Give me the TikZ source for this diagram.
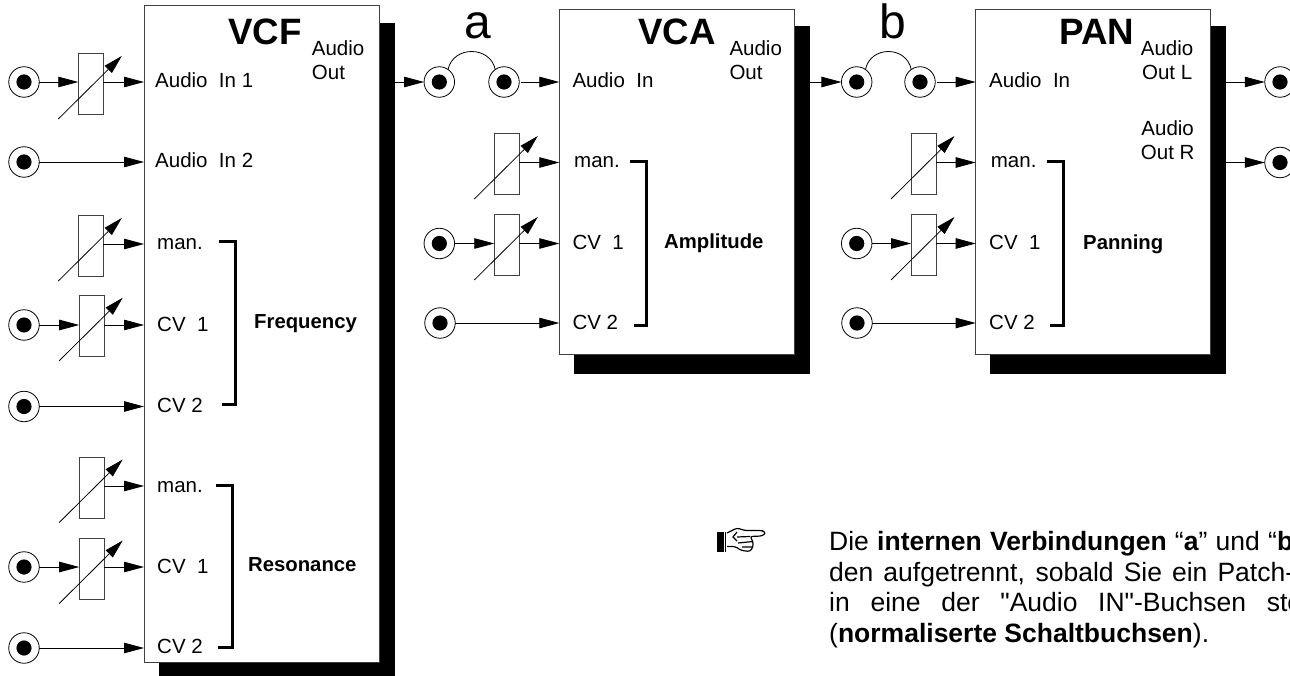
\documentclass[tikz,border=0pt]{standalone}
\usepackage{fontspec}
\setmainfont{Liberation Sans}
\newfontfamily\straightfont{Liberation Sans}
\usetikzlibrary{arrows.meta}
\newcommand{\lblsize}{\fontsize{20.5}{24.2}\selectfont}
\tikzset{
  modbox/.style={draw=black!75,fill=white,line width=1pt,minimum width=235pt,inner sep=0pt,outer sep=0pt},
  jack/.style={circle,draw,line width=.8pt,minimum size=30.5pt,inner sep=0pt,outer sep=0pt,
    path picture={\fill (path picture bounding box.center) circle (7.6pt);}},
  potbox/.style={draw=black!75,line width=1pt,minimum width=25pt,minimum height=61pt,inner sep=0pt,outer sep=0pt},
  sig/.style={-{Triangle[length=20pt,width=10.5pt]},line width=.8pt},
  knob/.style={-{Triangle[length=19pt,width=10pt]},line width=.8pt},
  brk/.style={line width=3pt,line cap=butt,line join=miter},
  lbl/.style={anchor=base west,inner sep=0pt,font=\lblsize},
  outlbl/.style={anchor=base west,inner sep=0pt,font=\lblsize,align=left},
  grp/.style={anchor=base west,inner sep=0pt,font=\fontsize{20.3}{24}\selectfont\bfseries},
  title/.style={anchor=base,inner sep=0pt,font=\fontsize{36.7}{40}\selectfont\bfseries},
  tag/.style={anchor=base,inner sep=0pt,font=\fontsize{48}{50}\selectfont},
  para/.style={anchor=base west,inner sep=0pt,font=\fontsize{26.5}{30.8}\selectfont}
}
\begin{document}
\begin{tikzpicture}[x=1pt,y=-1pt]
\useasboundingbox (0,0) rectangle (1290,676);
\fill (159,23) rectangle (395,676);
\fill (574,26) rectangle (810,374);
\fill (990,26) rectangle (1226,374);
\node[modbox,minimum height=656pt] (vcf) at (261.5,334) {};
\node[modbox,minimum height=344.5pt] (vca) at (676.8,181.8) {};
\node[modbox,minimum height=344.5pt] (pan) at (1093.2,181.8) {};
\node[title] (vcft) at (265,45) {VCF};
\node[title] (vcat) at (677,45) {VCA};
\node[title] (pant) at (1097,45) {PAN};
\node[tag] (taga) at (478,39) {a};
\node[tag] (tagb) at (893,39) {b};

\coordinate (fa1) at (144,82);
\coordinate (fa2) at (144,162);
\coordinate (ffm) at (144,244);
\coordinate (ffa) at (144,325);
\coordinate (ffb) at (144,406.5);
\coordinate (frm) at (144,486);
\coordinate (fra) at (144,567);
\coordinate (frb) at (144,648);
\coordinate (fout) at (395,82);
\coordinate (aa) at (559.3,82);
\coordinate (am) at (559.3,162.5);
\coordinate (ac1) at (559.3,243.5);
\coordinate (ac2) at (559.3,323);
\coordinate (aout) at (810,82);
\coordinate (pa) at (975.7,82);
\coordinate (pm) at (975.7,162.5);
\coordinate (pc1) at (975.7,243.5);
\coordinate (pc2) at (975.7,323);
\coordinate (poutl) at (1226,82);
\coordinate (poutr) at (1226,162.5);

\node[jack] (j1) at (24,82) {};
\node[jack] (j2) at (24,162) {};
\node[jack] (j3) at (24,325) {};
\node[jack] (j4) at (24,406.5) {};
\node[jack] (j5) at (24,567) {};
\node[jack] (j6) at (24,648) {};
\node[jack] (ja1) at (439.3,82) {};
\node[jack] (ja2) at (504,82) {};
\node[jack] (ja3) at (439.3,243.5) {};
\node[jack] (ja4) at (440,323) {};
\node[jack] (jb1) at (856.7,82) {};
\node[jack] (jb2) at (920,82) {};
\node[jack] (jb3) at (856.7,243.5) {};
\node[jack] (jb4) at (857,323) {};
\node[jack] (jo1) at (1280,82) {};
\node[jack] (jo2) at (1280,162.5) {};

\node[potbox] (p1) at (90.8,84.5) {};
\node[potbox] (p2) at (90.8,246.5) {};
\node[potbox] (p3) at (91.7,326.3) {};
\node[potbox] (p4) at (91.7,488) {};
\node[potbox] (p5) at (91.7,569) {};
\node[potbox] (pa1) at (506.8,164.5) {};
\node[potbox] (pa2) at (506.8,245.5) {};
\node[potbox] (pb1) at (923.5,164.5) {};
\node[potbox] (pb2) at (923.5,245.5) {};

\draw[knob] ([shift={(-32.5,34.5)}]p1.center) -- ([shift={(31,-28.5)}]p1.center);
\draw[knob] ([shift={(-32.5,34.5)}]p2.center) -- ([shift={(31,-28.5)}]p2.center);
\draw[knob] ([shift={(-32.5,34.5)}]p3.center) -- ([shift={(31,-28.5)}]p3.center);
\draw[knob] ([shift={(-32.5,34.5)}]p4.center) -- ([shift={(31,-28.5)}]p4.center);
\draw[knob] ([shift={(-32.5,34.5)}]p5.center) -- ([shift={(31,-28.5)}]p5.center);
\draw[knob] ([shift={(-32.5,34.5)}]pa1.center) -- ([shift={(31,-28.5)}]pa1.center);
\draw[knob] ([shift={(-32.5,34.5)}]pa2.center) -- ([shift={(31,-28.5)}]pa2.center);
\draw[knob] ([shift={(-32.5,34.5)}]pb1.center) -- ([shift={(31,-28.5)}]pb1.center);
\draw[knob] ([shift={(-32.5,34.5)}]pb2.center) -- ([shift={(31,-28.5)}]pb2.center);

\draw[sig] (j1) -- (j1 -| p1.west);
\draw[sig] (fa1 -| p1.east) -- (fa1);
\draw[sig] (j2) -- (fa2);
\draw[sig] (ffm -| p2.east) -- (ffm);
\draw[sig] (j3) -- (j3 -| p3.west);
\draw[sig] (ffa -| p3.east) -- (ffa);
\draw[sig] (j4) -- (ffb);
\draw[sig] (frm -| p4.east) -- (frm);
\draw[sig] (j5) -- (j5 -| p5.west);
\draw[sig] (fra -| p5.east) -- (fra);
\draw[sig] (j6) -- (frb);
\draw[sig] (fout) -- (ja1);
\draw[sig,shorten <=2pt] (ja2) -- (aa);
\draw[sig] (am -| pa1.east) -- (am);
\draw[sig] (ja3) -- (ja3 -| pa2.west);
\draw[sig] (ac1 -| pa2.east) -- (ac1);
\draw[sig] (ja4) -- (ac2);
\draw[sig] (aout) -- (jb1);
\draw[sig,shorten <=2pt] (jb2) -- (pa);
\draw[sig] (pm -| pb1.east) -- (pm);
\draw[sig] (jb3) -- (jb3 -| pb2.west);
\draw[sig] (pc1 -| pb2.east) -- (pc1);
\draw[sig] (jb4) -- (pc2);
\draw[sig] (poutl) -- (jo1);
\draw[sig] (poutr) -- (jo2);

\draw[line width=.8pt] (ja1.55) .. controls +(5,-24) and +(-5,-24) .. (ja2.125);
\draw[line width=.8pt] (jb1.55) .. controls +(5,-24) and +(-5,-24) .. (jb2.125);

\coordinate (b1a) at (218.7,241.7);
\coordinate (b1b) at (221.7,404);
\coordinate (b2a) at (215.7,485);
\coordinate (b2b) at (218,647.7);
\coordinate (b3a) at (630,162);
\coordinate (b3b) at (633.7,325);
\coordinate (b4a) at (1046.7,162);
\coordinate (b4b) at (1050,325);
\draw[brk] (b1a) -- +(16.3,0) |- (b1b);
\draw[brk] (b2a) -- +(16.3,0) |- (b2b);
\draw[brk] (b3a) -- +(16.7,0) |- (b3b);
\draw[brk] (b4a) -- +(16.3,0) |- (b4b);

\node[lbl] (l1) at (155,88) {Audio\ \ In 1};
\node[lbl] (l2) at (155,168) {Audio\ \ In 2};
\node[lbl] (l3) at (157,250) {man.};
\node[lbl] (l4) at (157,331) {CV\ \ 1};
\node[lbl] (l5) at (157,412.5) {CV 2};
\node[lbl] (l6) at (157,492) {man.};
\node[lbl] (l7) at (157,573.5) {CV\ \ 1};
\node[lbl] (l8) at (157,653.5) {CV 2};
\node[outlbl] (l9) at (311.7,80) {Audio\\Out};
\node[lbl] (l10) at (572.3,88) {Audio\ \ In};
\node[lbl] (l11) at (574,168) {man.};
\node[lbl] (l12) at (572.3,250) {CV\ \ 1};
\node[lbl] (l13) at (572.3,329.5) {CV 2};
\node[outlbl] (l14) at (729.3,80) {Audio\\Out};
\node[lbl] (l15) at (989,88) {Audio\ \ In};
\node[lbl] (l16) at (990.7,168) {man.};
\node[lbl] (l17) at (989,250) {CV\ \ 1};
\node[lbl] (l18) at (989,329.5) {CV 2};
\node[outlbl,align=center] (l19) at (1140.7,80) {Audio\\Out L};
\node[outlbl,align=center] (l20) at (1140.7,160) {Audio\\Out R};
\node[grp] (g1) at (254,328) {Frequency};
\node[grp] (g2) at (248,571.7) {Resonance};
\node[grp] (g3) at (664,248.3) {Amplitude};
\node[grp] (g4) at (1083,249.3) {Panning};

\fill (717,532) rectangle (723.5,551.5);
\draw[line width=1pt] (725.5,532) -- (725.5,551.5);
\draw[line width=1.2pt,rounded corners=2.5pt] (727,533) -- (737,528) -- (745,530.5) -- (762,530.5) -- (766,533) -- (762,536) -- (750,536.5) -- (753,541.5) -- (753,547) -- (750,551.5) -- (741.5,550.5) -- (735,546.5) -- (727,546.5);
\draw[line width=1.2pt] (737,532) -- (733,537) -- (737,541) (737,537) -- (750,536.5) (738,543) -- (753,541.5) (742,547) -- (753,547);

\node[para] (t1) at (829,550) {\makebox[464pt][s]{Die \textbf{internen Verbindungen} “\textbf{a}” und “\textbf{b}}};
\node[para] (t2) at (829,581) {\makebox[465pt][s]{den aufgetrennt, sobald Sie ein Patch-}};
\node[para] (t3) at (829,611) {\makebox[473pt][s]{in eine der {\straightfont "Audio IN"}-Buchsen ste}};
\node[para] (t4) at (829,642.7) {(\textbf{normaliserte Schaltbuchsen}).};
\end{tikzpicture}
\end{document}
